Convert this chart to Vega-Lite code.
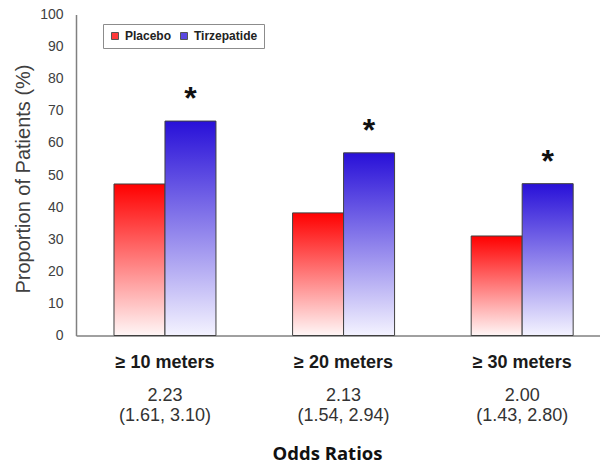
{
  "$schema": "https://vega.github.io/schema/vega-lite/v6.json",
  "autosize": {"type": "none"},
  "padding": {"left": 76, "top": 14.5, "right": 0, "bottom": 128.5},
  "width": 524,
  "height": 321,
  "background": "white",
  "config": {
    "view": {"stroke": null},
    "font": "Liberation Sans",
    "axis": {"labelOverlap": false},
    "axisY": {"labelOverlap": false}
  },
  "datasets": {
    "bars": [
      {"group": "≥ 10 meters", "series": "Placebo", "pct": 47.2, "sig": ""},
      {"group": "≥ 10 meters", "series": "Tirzepatide", "pct": 66.8, "sig": "*"},
      {"group": "≥ 20 meters", "series": "Placebo", "pct": 38.2, "sig": ""},
      {"group": "≥ 20 meters", "series": "Tirzepatide", "pct": 56.9, "sig": "*"},
      {"group": "≥ 30 meters", "series": "Placebo", "pct": 31.0, "sig": ""},
      {"group": "≥ 30 meters", "series": "Tirzepatide", "pct": 47.3, "sig": "*"}
    ],
    "ors": [
      {"group": "≥ 10 meters", "or": "2.23\n(1.61, 3.10)", "base": 0},
      {"group": "≥ 20 meters", "or": "2.13\n(1.54, 2.94)", "base": 0},
      {"group": "≥ 30 meters", "or": "2.00\n(1.43, 2.80)", "base": 0}
    ]
  },
  "encoding": {
    "x": {
      "field": "group", "type": "nominal", "sort": null,
      "scale": {"paddingInner": 0.429, "paddingOuter": 0.1815, "align": 0.586},
      "axis": {
        "title": "Odds Ratios",
        "titleFont": "Open Sans", "titleFontWeight": "bold", "titleFontSize": 18.5, "titleColor": "#111",
        "titleX": 251, "titleY": 124, "titleBaseline": "alphabetic",
        "labelAngle": 0, "labelFontSize": 18, "labelFontWeight": "bold", "labelColor": "#1a1a1a",
        "labelPadding": 18, "ticks": false,
        "domainColor": "#808080", "domainWidth": 1.5
      }
    },
    "y": {
      "field": "pct", "type": "quantitative",
      "scale": {"domain": [0, 100], "nice": false},
      "axis": {
        "title": "Proportion of Patients (%)",
        "titleFontSize": 20, "titleFontWeight": "normal", "titleColor": "#404040",
        "titleX": -47, "titleY": 164, "titleBaseline": "alphabetic", "titleAngle": -90,
        "values": [0, 10, 20, 30, 40, 50, 60, 70, 80, 90, 100],
        "labelOverlap": false, "labelBound": false, "labelSeparation": 0,
        "labelFontSize": 14, "labelColor": "#404040", "labelPadding": 13,
        "ticks": false, "grid": false,
        "domainColor": "#808080", "domainWidth": 1.5
      }
    }
  },
  "layer": [
    {
      "data": {"name": "bars"},
      "transform": [{"filter": "datum.series === 'Placebo'"}],
      "mark": {
        "type": "bar", "stroke": "#404040", "strokeWidth": 1,
        "color": {"gradient": "linear", "x1": 0, "y1": 0, "x2": 0, "y2": 1,
          "stops": [{"offset": 0, "color": "#ff0000"}, {"offset": 1, "color": "#fff6f6"}]}
      },
      "encoding": {
        "xOffset": {
          "field": "series", "type": "nominal",
          "scale": {"domain": ["Placebo", "Tirzepatide"], "paddingInner": 0, "paddingOuter": 0}
        }
      }
    },
    {
      "data": {"name": "bars"},
      "transform": [{"filter": "datum.series === 'Tirzepatide'"}],
      "mark": {
        "type": "bar", "stroke": "#404040", "strokeWidth": 1,
        "color": {"gradient": "linear", "x1": 0, "y1": 0, "x2": 0, "y2": 1,
          "stops": [{"offset": 0, "color": "#2810d8"}, {"offset": 1, "color": "#f4f3ff"}]}
      },
      "encoding": {
        "xOffset": {"field": "series", "type": "nominal"}
      }
    },
    {
      "data": {"name": "bars"},
      "mark": {"type": "square", "opacity": 0},
      "encoding": {
        "xOffset": {"field": "series", "type": "nominal"},
        "color": {
          "field": "series", "type": "nominal",
          "scale": {"domain": ["Placebo", "Tirzepatide"], "range": ["#ff3a3a", "#5a48e0"]},
          "legend": {
            "title": null, "orient": "none", "legendX": 27, "legendY": 9.5,
            "direction": "horizontal",
            "strokeColor": "#8c8c8c", "fillColor": "white", "padding": 6,
            "symbolType": "square", "symbolSize": 49,
            "symbolStrokeColor": "#555", "symbolStrokeWidth": 1,
            "labelFontSize": 12, "labelFontWeight": "bold", "labelColor": "#222",
            "labelOffset": 4, "columnPadding": 6,
            "encode": {
              "symbols": {
                "update": {
                  "opacity": {"value": 1},
                  "fillOpacity": {"value": 1},
                  "strokeOpacity": {"value": 1},
                  "stroke": {"value": "#555"}
                }
              }
            }
          }
        }
      }
    },
    {
      "data": {"name": "bars"},
      "mark": {"type": "text", "fontSize": 32, "fontWeight": "bold", "baseline": "alphabetic", "dy": -12, "color": "#111"},
      "encoding": {
        "xOffset": {"field": "series", "type": "nominal"},
        "text": {"field": "sig"}
      }
    },
    {
      "data": {"name": "ors"},
      "mark": {"type": "text", "fontSize": 18, "baseline": "top", "lineBreak": "\n", "lineHeight": 20.5, "dy": 51, "color": "#333", "clip": false},
      "encoding": {
        "y": {"field": "base", "type": "quantitative"},
        "text": {"field": "or"}
      }
    }
  ]
}
